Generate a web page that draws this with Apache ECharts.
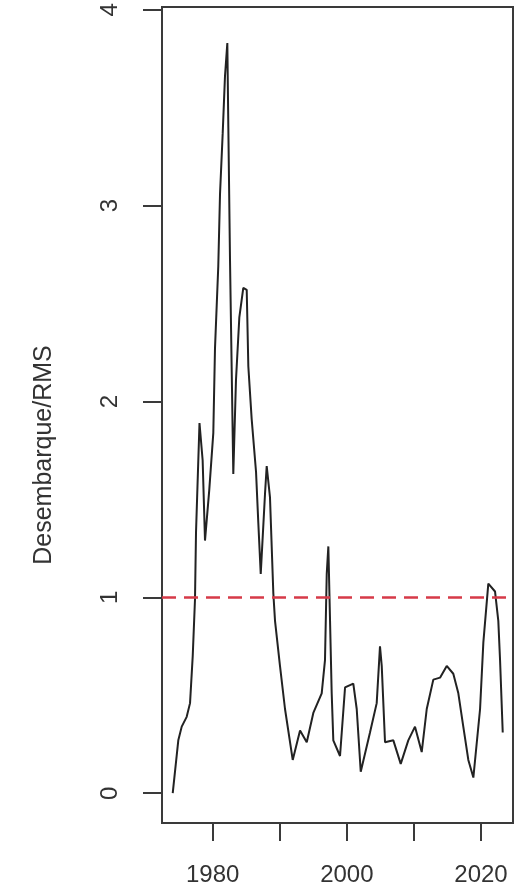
<!DOCTYPE html>
<html>
<head>
<meta charset="utf-8">
<title>Desembarque/RMS</title>
<script src="https://cdn.jsdelivr.net/npm/echarts@6/dist/echarts.min.js"></script>
<style>
  html, body { margin: 0; padding: 0; background: #ffffff; }
  #chart { width: 518px; height: 890px; }
</style>
</head>
<body>
<div id="chart"></div>
<script>
// Time of each observation (decimal year)
const years = [
  1974.04, 1974.87, 1975.38, 1976.12, 1976.62, 1977.02, 1977.36, 1977.51, 1978.03, 1978.50,
  1978.85, 1979.49, 1980.09, 1980.34, 1980.83, 1981.09, 1981.49, 1981.83, 1982.18, 1982.33,
  1982.58, 1983.07, 1983.47, 1983.97, 1984.56, 1985.07, 1985.31, 1985.81, 1986.46, 1986.80,
  1987.16, 1987.80, 1988.05, 1988.54, 1989.04, 1989.29, 1990.03, 1990.78, 1991.93, 1993.02,
  1994.02, 1995.00, 1996.25, 1996.74, 1997.00, 1997.24, 1997.74, 1997.98, 1998.98, 1999.73,
  2000.96, 2001.47, 2002.07, 2003.45, 2004.45, 2004.94, 2005.20, 2005.69, 2006.93, 2008.03,
  2009.16, 2010.16, 2011.16, 2011.91, 2012.89, 2013.89, 2014.89, 2015.87, 2016.62, 2017.36,
  2018.11, 2018.86, 2019.86, 2020.35, 2021.09, 2022.09, 2022.58, 2022.84, 2023.24
];

// Landings relative to RMS
const ratio = [
  0.00, 0.27, 0.34, 0.39, 0.46, 0.70, 0.99, 1.33, 1.89, 1.70,
  1.29, 1.55, 1.84, 2.27, 2.69, 3.06, 3.37, 3.66, 3.83, 3.40,
  2.72, 1.63, 2.11, 2.43, 2.58, 2.57, 2.18, 1.91, 1.64, 1.38,
  1.12, 1.53, 1.67, 1.51, 1.02, 0.88, 0.65, 0.43, 0.17, 0.32,
  0.26, 0.41, 0.51, 0.68, 1.12, 1.26, 0.51, 0.27, 0.19, 0.54,
  0.56, 0.43, 0.11, 0.31, 0.46, 0.75, 0.65, 0.26, 0.27, 0.15,
  0.27, 0.34, 0.21, 0.43, 0.58, 0.59, 0.65, 0.61, 0.51, 0.34,
  0.17, 0.08, 0.43, 0.77, 1.07, 1.03, 0.88, 0.68, 0.31
];

// Reference level
const referenceLevel = 1;

// Axis ticks and labels
const xTicks = [1980, 1990, 2000, 2010, 2020];
const xLabels = [1980, 2000, 2020];
const yTicks = [0, 1, 2, 3, 4];

const seriesData = years.map((y, i) => [y, ratio[i]]);

const FONT = '"Liberation Sans", Arial, Helvetica, sans-serif';
const INK = '#333333';

const chart = echarts.init(document.getElementById('chart'), null, { renderer: 'canvas' });

chart.setOption({
  backgroundColor: '#ffffff',
  animation: false,
  grid: {
    left: 162,
    right: 5,
    top: 7,
    bottom: 67,
    show: true,
    borderColor: '#3a3a3a',
    borderWidth: 2,
    backgroundColor: 'transparent'
  },
  xAxis: {
    type: 'value',
    min: 1972.44,
    max: 2024.77,
    axisLine: { show: false, onZero: false },
    splitLine: { show: false },
    axisTick: {
      show: true,
      customValues: xTicks,
      length: 18,
      lineStyle: { color: '#3a3a3a', width: 2 }
    },
    axisLabel: {
      customValues: xLabels,
      formatter: (v) => String(v),
      fontSize: 24,
      fontFamily: FONT,
      color: INK,
      margin: 40
    }
  },
  yAxis: {
    type: 'value',
    min: -0.152,
    max: 4.014,
    name: 'Desembarque/RMS',
    nameLocation: 'middle',
    nameRotate: 90,
    nameGap: 105,
    nameTextStyle: {
      fontSize: 25,
      fontFamily: FONT,
      color: INK,
      padding: [0, 80, 0, 0]
    },
    axisLine: { show: false, onZero: false },
    splitLine: { show: false },
    axisTick: {
      show: true,
      customValues: yTicks,
      length: 19,
      lineStyle: { color: '#3a3a3a', width: 2 }
    },
    axisLabel: {
      customValues: yTicks,
      formatter: (v) => String(v),
      rotate: 90,
      fontSize: 24,
      fontFamily: FONT,
      color: INK,
      margin: 40
    }
  },
  series: [{
    type: 'line',
    data: seriesData,
    showSymbol: false,
    symbol: 'none',
    lineStyle: { color: '#222222', width: 2 },
    markLine: {
      silent: true,
      symbol: 'none',
      label: { show: false },
      lineStyle: { color: '#d63a48', width: 2.5, type: [14, 8] },
      data: [{ yAxis: referenceLevel }]
    },
    z: 3
  }]
});
</script>
</body>
</html>
